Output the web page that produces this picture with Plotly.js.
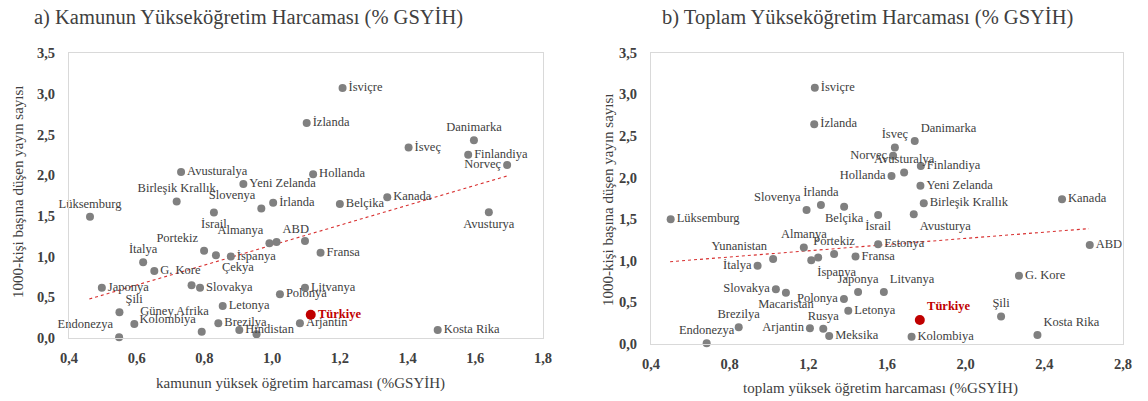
<!DOCTYPE html>
<html>
<head>
<meta charset="utf-8">
<script src="https://cdn.plot.ly/plotly-3.0.1.min.js"></script>
<style>html,body{margin:0;padding:0;background:#fff;}#chart{width:1148px;height:401px;}</style>
</head>
<body>
<div id="chart"></div>
<script>
// ---- Panel a) Kamu harcaması ----
const aLabels = ["İsviçre","İzlanda","Danimarka","İsveç","Finlandiya","Norveç","Hollanda","Avusturalya","Yeni Zelanda","Birleşik Krallık","Slovenya","İrlanda","Lüksemburg","İsrail","Belçika","Kanada","Avusturya","ABD","Almanya","","Portekiz","Çekya","İspanya","İtalya","G. Kore","","Slovakya","Japonya","Polonya","Litvanya","Şili","Letonya","Güney Afrika","Brezilya","Kolombiya","Endonezya","","Hindistan","Arjantin","Kosta Rika","Fransa"];
const aX = [1.208,1.102,1.596,1.403,1.579,1.694,1.121,0.731,0.915,0.718,0.968,1.003,0.462,0.828,1.200,1.340,1.640,1.013,0.992,1.097,0.799,0.834,0.878,0.619,0.652,0.762,0.787,0.497,1.023,1.097,0.549,0.854,0.593,0.841,0.792,0.548,0.954,0.903,1.082,1.489,1.143];
const aY = [3.07,2.64,2.43,2.34,2.25,2.125,2.01,2.04,1.89,1.675,1.59,1.66,1.49,1.54,1.646,1.73,1.544,1.18,1.163,1.19,1.07,1.016,1.00,0.93,0.823,0.647,0.618,0.618,0.537,0.618,0.316,0.393,0.172,0.18,0.077,0.01,0.045,0.098,0.18,0.098,1.048];
const aPos = ["middle right","middle right","top center","middle right","middle right","middle left","middle right","middle right","middle right","top center","top left","middle right","top center","bottom center","middle right","middle right","bottom center","top right","top left","middle right","top left","bottom right","middle right","top center","middle right","middle right","middle right","middle right","middle right","middle right","top right","middle right","top right","middle right","top left","top left","middle right","middle right","middle right","middle right","middle right"];
const aTurkey = {x: 1.114, y: 0.286};
const aTrendX = [0.46, 1.694];
const aTrendY = [0.479, 1.99];

// ---- Panel b) Toplam harcama ----
const bLabels = ["İsviçre","İzlanda","İsveç","Danimarka","Norveç","Avusturalya","Hollanda","Finlandiya","Yeni Zelanda","Birleşik Krallık","Kanada","Slovenya","İrlanda","Belçika","İsrail","Avusturya","Lüksemburg","Yunanistan","Almanya","Portekiz","İspanya","","Estonya","ABD","Fransa","İtalya","Slovakya","Macaristan","Japonya","Polonya","Litvanya","Letonya","Kolombiya","Şili","Kosta Rika","G. Kore","Arjantin","Rusya","Meksika","Brezilya","Endonezya"];
const bX = [1.233,1.230,1.640,1.741,1.631,1.687,1.623,1.772,1.770,1.787,2.490,1.191,1.264,1.382,1.555,1.736,0.500,1.021,1.177,1.331,1.215,1.250,1.555,2.631,1.440,0.942,1.035,1.086,1.453,1.381,1.584,1.403,1.725,2.180,2.365,2.271,1.208,1.276,1.306,0.846,0.683];
const bY = [3.08,2.64,2.36,2.44,2.263,2.06,2.02,2.14,1.90,1.69,1.739,1.61,1.67,1.65,1.55,1.559,1.50,1.02,1.16,1.08,1.006,1.04,1.20,1.19,1.05,0.94,0.657,0.617,0.625,0.54,0.625,0.40,0.088,0.33,0.108,0.82,0.189,0.184,0.096,0.20,0.008];
const bPos = ["middle right","middle right","top center","top right","middle left","top center","middle left","middle right","middle right","middle right","middle right","top left","top center","bottom center","bottom center","bottom right","middle right","top left","top center","top center","bottom right","middle right","middle right","middle right","middle right","middle left","middle left","bottom center","top center","middle left","top right","middle right","middle right","top center","top right","middle right","middle left","top center","middle right","top center","top center"];
const bTurkey = {x: 1.767, y: 0.288};
const bTrendX = [0.497, 2.627];
const bTrendY = [0.989, 1.386];

const yTicks = [0,0.5,1,1.5,2,2.5,3,3.5];
const aXTicks = [0.4,0.6,0.8,1.0,1.2,1.4,1.6,1.8];
const bXTicks = [0.4,0.8,1.2,1.6,2.0,2.4,2.8];

const FONT = "'Liberation Serif', 'Times New Roman', serif";
const TXT = "#404040";
const DOT = "#808080";
const RED = "#c00000";
const W = 1148, H = 401;

function pts(x, y, labels, pos, xa, ya) {
  return {type:"scatter", mode:"markers+text", x:x, y:y, text:labels, textposition:pos,
    xaxis:xa, yaxis:ya, cliponaxis:false, hoverinfo:"text",
    marker:{color:DOT, size:8}, textfont:{family:FONT, size:12.5, color:TXT}, showlegend:false};
}
function trend(x, y, xa, ya) {
  return {type:"scatter", mode:"lines", x:x, y:y, xaxis:xa, yaxis:ya,
    line:{color:"#d83030", width:1.1, dash:"dot"}, hoverinfo:"skip", showlegend:false};
}
function turkey(t, pos, xa, ya) {
  return {type:"scatter", mode:"markers+text", x:[t.x], y:[t.y], text:["<b>Türkiye</b>"],
    textposition:pos, xaxis:xa, yaxis:ya, cliponaxis:false,
    marker:{color:RED, size:10}, textfont:{family:FONT, size:12.5, color:RED}, showlegend:false};
}

const data = [
  trend(aTrendX, aTrendY, "x", "y"),
  pts(aX, aY, aLabels, aPos, "x", "y"),
  turkey(aTurkey, "middle right", "x", "y"),
  trend(bTrendX, bTrendY, "x2", "y2"),
  pts(bX, bY, bLabels, bPos, "x2", "y2"),
  turkey(bTurkey, "top right", "x2", "y2")
];

const tickFont = {family:FONT, size:14.5, color:TXT, weight:700};
function xax(range, ticks, domain, anchor) {
  return {domain:domain, range:range, tickvals:ticks, tickformat:".1f", ticks:"", showgrid:false, zeroline:false,
    showline:true, mirror:true, linecolor:"#d9d9d9", linewidth:1, tickfont:tickFont, anchor:anchor,
    ticklabelstandoff:7, fixedrange:true};
}
function yax(domain, anchor) {
  return {domain:domain, range:[0,3.5], tickvals:yTicks, tickformat:".1f", ticks:"", showgrid:false, zeroline:false,
    showline:true, mirror:true, linecolor:"#d9d9d9", linewidth:1, tickfont:tickFont, anchor:anchor,
    ticklabelstandoff:10, fixedrange:true};
}

const layout = {
  width:W, height:H, margin:{l:0,r:0,t:0,b:0}, paper_bgcolor:"#fff", plot_bgcolor:"#fff",
  separators:",.", showlegend:false, font:{family:FONT, color:TXT},
  xaxis: xax([0.4,1.8], aXTicks, [69/W, 543/W], "y"),
  yaxis: yax([(H-338)/H, (H-53)/H], "x"),
  xaxis2: xax([0.4,2.8], bXTicks, [651/W, 1123/W], "y2"),
  yaxis2: yax([(H-344)/H, (H-52.7)/H], "x2"),
  annotations: [
    {xref:"paper", yref:"paper", x:32/W, y:1-17/H, xanchor:"left", yanchor:"middle", showarrow:false,
     text:"a) Kamunun Yükseköğretim Harcaması (% GSYİH)", font:{family:FONT, size:20.5, color:TXT}},
    {xref:"paper", yref:"paper", x:660/W, y:1-17/H, xanchor:"left", yanchor:"middle", showarrow:false,
     text:"b) Toplam Yükseköğretim Harcaması (% GSYİH)", font:{family:FONT, size:20.5, color:TXT}},
    {xref:"paper", yref:"paper", x:300/W, y:1-383/H, xanchor:"center", yanchor:"middle", showarrow:false,
     text:"kamunun yüksek öğretim harcaması (%GSYİH)", font:{family:FONT, size:15, color:TXT}},
    {xref:"paper", yref:"paper", x:880/W, y:1-388/H, xanchor:"center", yanchor:"middle", showarrow:false,
     text:"toplam yüksek öğretim harcaması (%GSYİH)", font:{family:FONT, size:15, color:TXT}},
    {xref:"paper", yref:"paper", x:18/W, y:1-192/H, xanchor:"center", yanchor:"middle", showarrow:false, textangle:-90,
     text:"1000-kişi başına düşen yayın sayısı", font:{family:FONT, size:15, color:TXT}},
    {xref:"paper", yref:"paper", x:608/W, y:1-200/H, xanchor:"center", yanchor:"middle", showarrow:false, textangle:-90,
     text:"1000-kişi başına düşen yayın sayısı", font:{family:FONT, size:15, color:TXT}}
  ]
};

Plotly.newPlot("chart", data, layout, {displayModeBar:false, staticPlot:true});
</script>
</body>
</html>
